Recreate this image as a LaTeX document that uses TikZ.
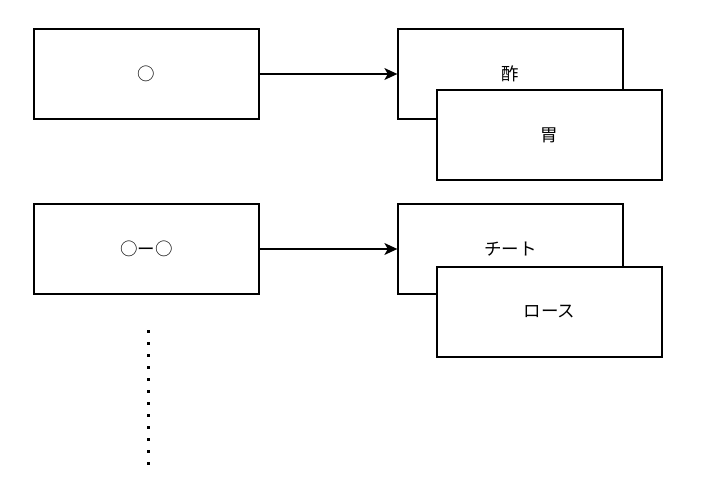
\documentclass[tikz,border=0pt]{standalone}
\usepackage{fontspec}
\setmainfont{Noto Sans CJK JP}
\usetikzlibrary{arrows.meta}
\tikzset{
	box/.style={draw, line width=1.3pt, minimum width=225pt, minimum height=90pt, inner sep=0pt, font=\fontsize{17.5}{20}\selectfont},
	front/.style={box, fill=white},
	arr/.style={line width=1.3pt, -{Stealth[length=13pt, width=12pt, inset=3.5pt]}}
}

\begin{document}
\begin{tikzpicture}[x=1pt, y=-1pt]
			%%%%% START %%%%%
			\useasboundingbox (0, 0) rectangle (703, 492);
			
			\node[box] (one) at (146.5, 74) {○};
			\node[box] (vinegar) at (510.5, 74) {酢};
			\node[front] (stomach) at (549.5, 135) {胃};
			\draw[arr] (one) -- (vinegar);
			
			\node[box] (two) at (146.5, 249) {○ー○};
			\node[box] (cheat) at (510.5, 249) {チート};
			\node[front] (loin) at (549.5, 312) {ロース};
			\draw[arr] (two) -- (cheat);
			
			\coordinate (dtop) at (148, 330);
			\coordinate (dbot) at (148, 467);
			\draw[line width=3pt, dash pattern=on 3pt off 9pt] (dtop) -- (dbot);
			%%%%% END %%%%%
\end{tikzpicture}
\end{document}
